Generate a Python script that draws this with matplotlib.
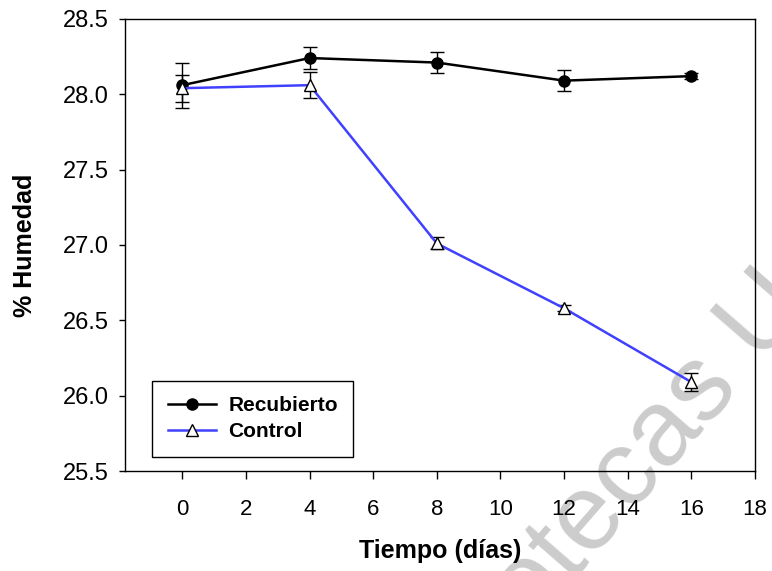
import matplotlib
matplotlib.use("Agg")
import matplotlib.pyplot as plt

plt.rcParams['font.family'] = ['Liberation Sans', 'DejaVu Sans']

# humidity over storage time, coated vs. control
dias = [0, 4, 8, 12, 16]
recubierto = [28.06, 28.24, 28.21, 28.09, 28.12]
recubierto_err = [0.15, 0.075, 0.07, 0.07, 0.02]
control = [28.04, 28.06, 27.01, 26.58, 26.09]
control_err = [0.09, 0.085, 0.04, 0.02, 0.06]
xticks = [0, 2, 4, 6, 8, 10, 12, 14, 16, 18]
yticks = [25.5, 26.0, 26.5, 27.0, 27.5, 28.0, 28.5]

fig = plt.figure(figsize=(7.72, 5.71), dpi=100)
ax = fig.add_axes([0.162, 0.175, 0.816, 0.792])
ax.set_facecolor('none')

# background watermark
fig.text(1.025, 0.496, "Bibliotecas U", fontsize=78, color='#cccccc',
         family=['Liberation Sans Narrow', 'Liberation Sans'],
         rotation=49, ha='right', va='center', zorder=-10,
         rotation_mode='anchor')

ax.errorbar(dias, recubierto, yerr=recubierto_err, color='black', lw=1.8,
            marker='o', ms=8, mfc='black', mec='black',
            ecolor='black', elinewidth=1, capsize=4.7, capthick=1,
            label='Recubierto', zorder=3)
ax.errorbar(dias, control, yerr=control_err, color='#4040ff', lw=1.8,
            marker='^', ms=9, mfc='white', mec='black', mew=1,
            ecolor='black', elinewidth=1, capsize=4.7, capthick=1,
            label='Control', zorder=4)

ax.set_xlim(-1.8, 18)
ax.set_ylim(25.5, 28.5)
ax.set_xticks(xticks)
ax.set_yticks(yticks)
ax.set_yticklabels([f"{v:.1f}" for v in yticks])
ax.tick_params(direction='out', width=1, labelsize=16)
ax.tick_params(axis='x', length=6, pad=14)
ax.tick_params(axis='y', length=4, pad=8, labelsize=17)
for s in ax.spines.values():
    s.set_linewidth(1)

ax.set_xlabel('Tiempo (días)', fontsize=18, fontweight='bold', labelpad=14)
ax.set_ylabel('% Humedad', fontsize=18, fontweight='bold', labelpad=18)

handles, labels = ax.get_legend_handles_labels()
handles = [h[0] for h in handles]
leg = ax.legend(handles, labels, loc='lower left', bbox_to_anchor=(0.043, 0.031),
                borderaxespad=0, fancybox=False, edgecolor='black', framealpha=1,
                prop={'weight': 'bold', 'size': 15}, handlelength=2.3,
                handletextpad=0.6, borderpad=0.75, labelspacing=0.35)
leg.get_frame().set_linewidth(1)

fig.savefig('out.png', dpi=100)
